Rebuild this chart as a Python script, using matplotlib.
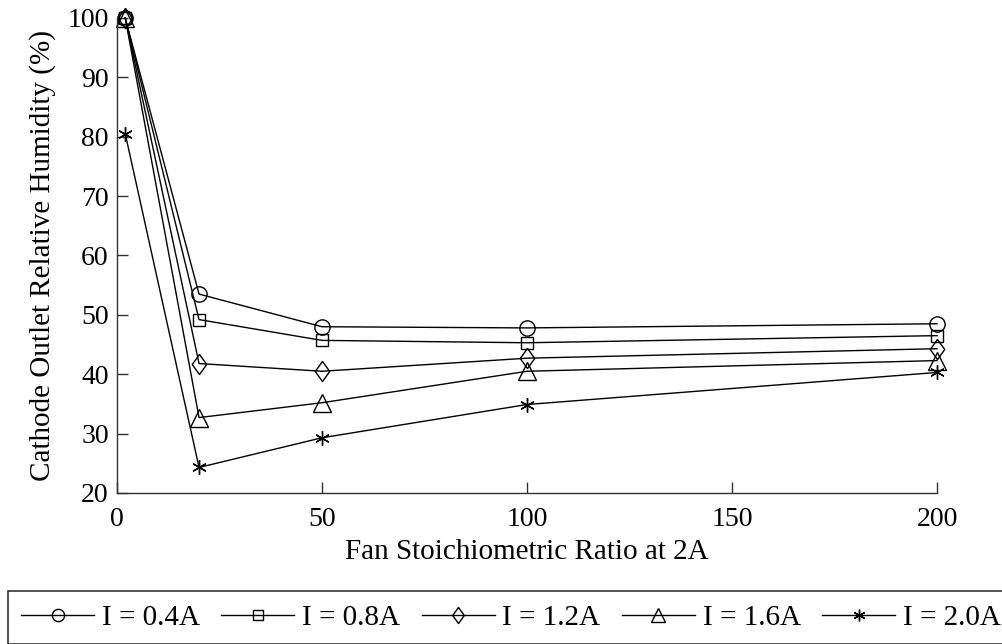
import matplotlib
matplotlib.use("Agg")
import matplotlib.pyplot as plt

plt.rcParams['font.family'] = ['Liberation Serif', 'DejaVu Serif']

fan_ratio = [2, 20, 50, 100, 200]
rh_04 = [100, 53.5, 48.0, 47.8, 48.5]
rh_08 = [100, 49.2, 45.7, 45.3, 46.5]
rh_12 = [100, 41.8, 40.5, 42.7, 44.3]
rh_16 = [100, 32.7, 35.2, 40.5, 42.3]
rh_20 = [80.5, 24.3, 29.3, 34.9, 40.3]
labels = ['I = 0.4A', 'I = 0.8A', 'I = 1.2A', 'I = 1.6A', 'I = 2.0A']
xticks = [0, 50, 100, 150, 200]
yticks = [20, 30, 40, 50, 60, 70, 80, 90, 100]

# slightly elongated diamond
diamond = [(0, 1), (0.72, 0), (0, -1), (-0.72, 0), (0, 1)]

# marker shape and size for each current level
marker_styles = [('o', 11), ('s', 9), (diamond, 14.5), ('^', 12.5), ((6, 2, 0), 10.5)]

fig = plt.figure(figsize=(10.02, 6.44), dpi=100)
ax = fig.add_axes([0.1168, 0.2345, 0.8184, 0.7376])

series = [rh_04, rh_08, rh_12, rh_16, rh_20]
for vals, lab, (mk, ms) in zip(series, labels, marker_styles):
    ax.plot(fan_ratio, vals, color='black', linewidth=1.0, marker=mk,
            markersize=ms, markerfacecolor='none', markeredgecolor='black',
            markeredgewidth=1.0, label=lab, clip_on=False)

ax.set_xlim(0, 200)
ax.set_ylim(20, 100)
ax.set_xticks(xticks)
ax.set_yticks(yticks)
ax.spines['top'].set_visible(False)
ax.spines['right'].set_visible(False)
for s in ('left', 'bottom'):
    ax.spines[s].set_color('#333333')
    ax.spines[s].set_linewidth(1.0)
ax.tick_params(direction='in', length=8, width=1.0, color='#333333',
               labelsize=20)
ax.tick_params(axis='x', pad=10)
ax.tick_params(axis='y', pad=6)
ax.set_xlabel('Fan Stoichiometric Ratio at 2A', fontsize=21, labelpad=5)
ax.set_ylabel('Cathode Outlet Relative Humidity (%)', fontsize=21, labelpad=8)

leg = fig.legend(loc='lower left',
                 bbox_to_anchor=(8/1002, 0/644, 1006/1002, 53/644),
                 mode='expand', ncol=5, fontsize=21, frameon=True, fancybox=False,
                 handlelength=2.5, handletextpad=0.27, columnspacing=0.55,
                 borderaxespad=0, borderpad=0.45, markerscale=0.8)
leg.get_frame().set_edgecolor('black')
leg.get_frame().set_linewidth(1.2)

fig.savefig('out.png', dpi=100)
